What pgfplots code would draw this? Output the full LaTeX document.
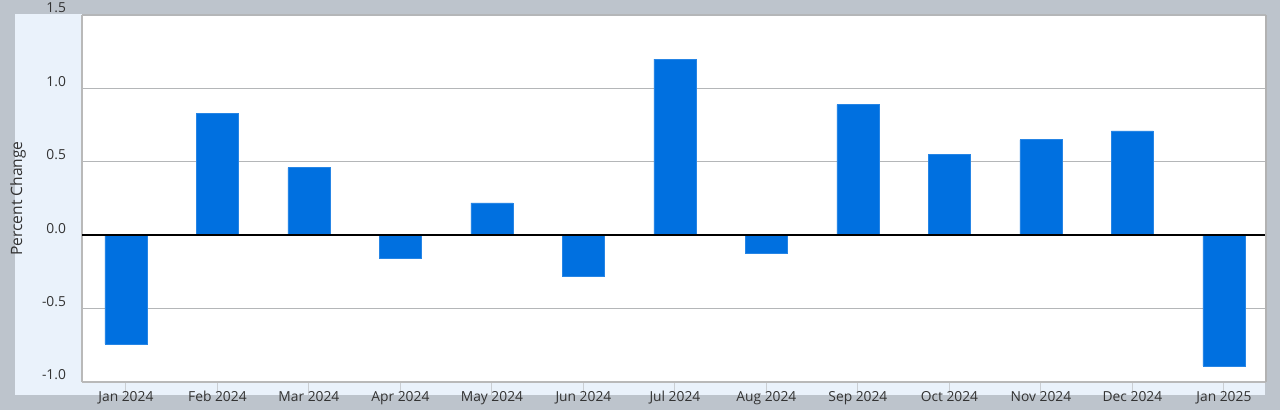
\documentclass[border=0pt]{standalone}
\usepackage{pgfplots}
\pgfplotsset{compat=1.18}
\usepackage{fontspec}
\setmainfont{Open Sans}
\definecolor{bgrey}{HTML}{BDC4CC}
\definecolor{panel}{HTML}{EAF2FB}
\definecolor{barblue}{HTML}{0070E0}
\definecolor{gridc}{HTML}{B4B6B8}
\definecolor{txt}{HTML}{333333}
\begin{document}
\begin{tikzpicture}
\fill[bgrey] (0,0) rectangle (640pt,205pt);
\fill[panel] (7.5pt,7.5pt) rectangle (632.5pt,198pt);
\useasboundingbox (0,0) rectangle (640pt,205pt);
\begin{axis}[
  at={(41pt,14pt)}, anchor=south west,
  scale only axis, width=592pt, height=183.5pt,
  axis background/.style={fill=white},
  xmin=-0.48, xmax=12.46, ymin=-1.0, ymax=1.5,
  ybar, bar width=0.46, bar shift=0pt,
  xtick=data,
  xticklabels={Jan 2024,Feb 2024,Mar 2024,Apr 2024,May 2024,Jun 2024,Jul 2024,Aug 2024,Sep 2024,Oct 2024,Nov 2024,Dec 2024,Jan 2025},
  ytick={-1,-0.5,0,0.5,1,1.5},
  yticklabel style={/pgf/number format/fixed,/pgf/number format/fixed zerofill,/pgf/number format/precision=1, xshift=2pt, yshift=3.5pt},
  /pgf/number format/assume math mode=true,
  ymajorgrids, grid style={gridc, line width=0.7pt},
  tick label style={font=\fontsize{6.9}{8}\selectfont, text=txt},
  ylabel={Percent Change},
  every axis y label/.style={at={(axis description cs:-0.054,0.5)}, rotate=90, anchor=center, font=\fontsize{7.8}{9}\selectfont, text=txt},
  tick align=outside,
  xtick style={draw=gridc!60!panel, line width=0.5pt},
  major tick length=6.5pt,
  ytick style={draw=none},
  xticklabel style={yshift=5.5pt},
  axis line style={draw=gray!55, line width=0.6pt},
  axis x line*=bottom, axis y line*=left,
  clip=false,
]
\addplot[fill=barblue, draw=barblue!85!white, line width=0.3pt] coordinates {
(0,-0.74) (1,0.83) (2,0.46) (3,-0.16) (4,0.22) (5,-0.28) (6,1.2)
(7,-0.12) (8,0.89) (9,0.55) (10,0.65) (11,0.71) (12,-0.89)};
\draw[black, line width=1pt] (axis cs:-0.48,0) -- (axis cs:12.46,0);
\draw[gray!60, line width=0.8pt] (axis cs:12.46,-1.0) -- (axis cs:12.46,1.5);
\end{axis}
\end{tikzpicture}
\end{document}
